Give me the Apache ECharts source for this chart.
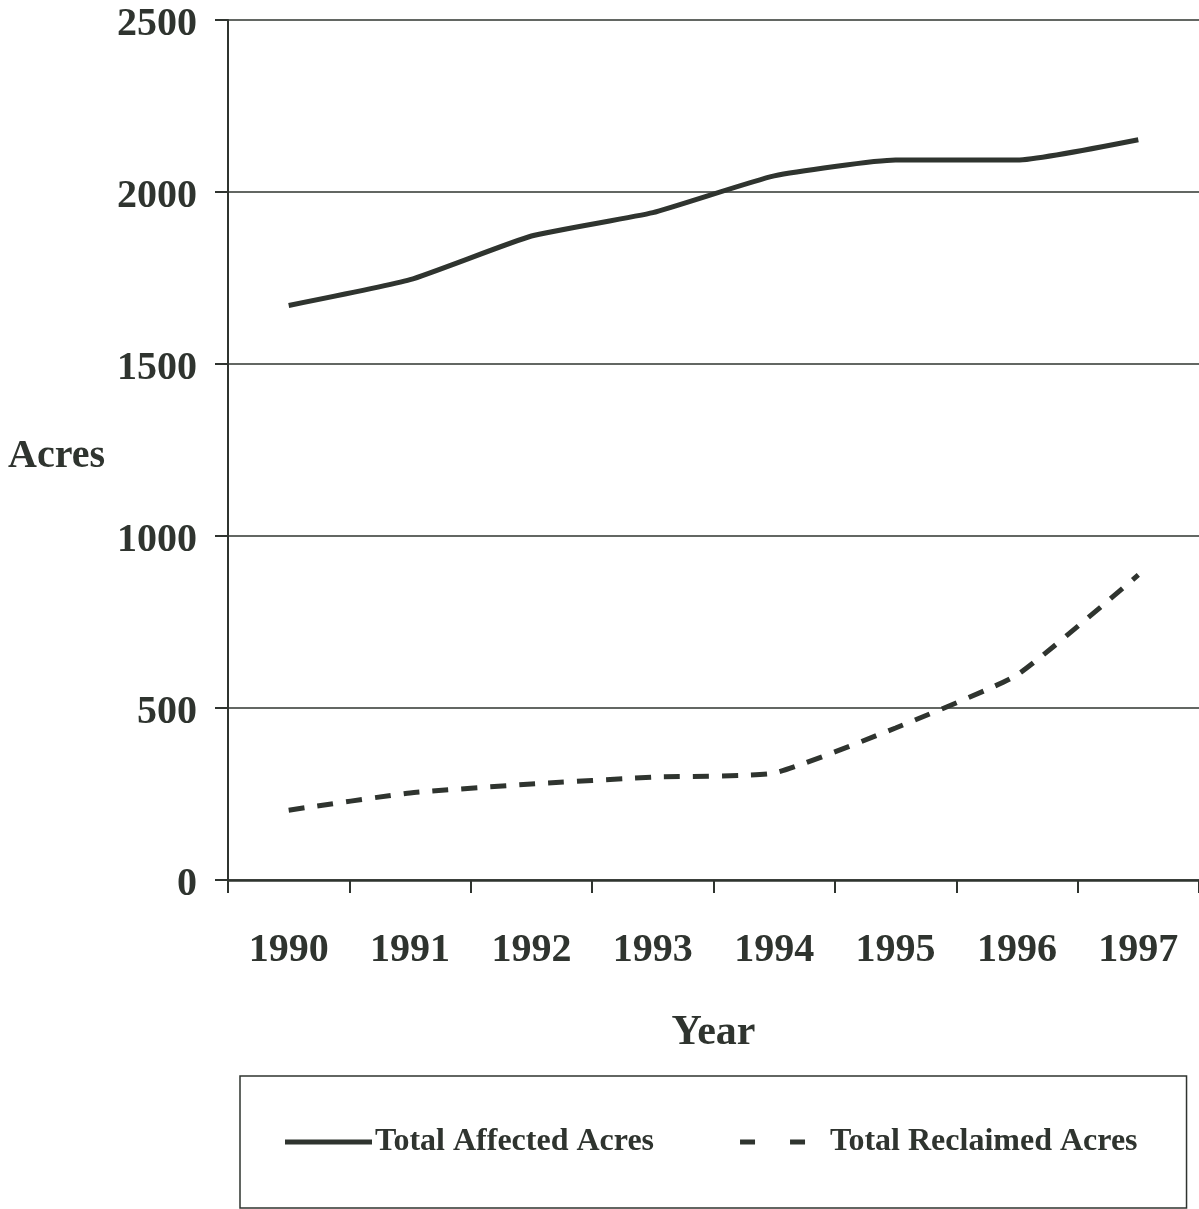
<!DOCTYPE html>
<html>
<head>
<meta charset="utf-8">
<script src="https://cdn.jsdelivr.net/npm/echarts@6/dist/echarts.min.js"></script>
<style>
  html, body { margin: 0; padding: 0; background: #fff; }
  #chart { width: 1199px; height: 1209px; }
</style>
</head>
<body>
<div id="chart"></div>
<script>
const years = ["1990", "1991", "1992", "1993", "1994", "1995", "1996", "1997"];
const affected = [1670, 1745, 1872, 1940, 2047, 2093, 2093, 2152];
const reclaimed = [203, 253, 279, 299, 311, 442, 596, 887];
const yTicks = [0, 500, 1000, 1500, 2000, 2500];

const ink = "#2f342f";
const font = "'Liberation Serif', 'Times New Roman', serif";

let myChart = echarts.init(document.getElementById("chart"));

let option = {
  backgroundColor: "#fff",
  animation: false,
  grid: {
    left: 228,
    right: 0,
    top: 20,
    bottom: 329,
  },
  legend: {
    left: 240,
    top: 1076,
    padding: [50, 49, 50, 45],
    borderColor: ink,
    borderWidth: 1.5,
    itemWidth: 87,
    itemHeight: 5,
    itemGap: 86,
    textStyle: {
      color: ink,
      fontFamily: font,
      fontWeight: "bold",
      fontSize: 32,
      padding: [0, 0, 0, -2],
    },
    data: [
      {
        name: "Total Affected Acres",
        icon: "rect",
      },
      {
        name: "Total Reclaimed Acres",
        // two dashes plus a tiny anchor so the icon keeps the full item width
        icon: "path://M0,0H15V5H0Z M50,0H65V5H50Z M86.9,2.4H87V2.5H86.9Z",
      },
    ],
  },
  xAxis: {
    type: "category",
    data: years,
    boundaryGap: true,
    name: "Year",
    nameLocation: "middle",
    nameGap: 132,
    nameTextStyle: {
      color: ink,
      fontFamily: font,
      fontWeight: "bold",
      fontSize: 42,
    },
    axisLine: { lineStyle: { color: ink, width: 2.5 } },
    axisTick: { show: true, length: 13, lineStyle: { color: ink, width: 2 } },
    axisLabel: {
      color: ink,
      fontFamily: font,
      fontWeight: "bold",
      fontSize: 40,
      margin: 51,
    },
    splitLine: { show: false },
  },
  yAxis: {
    type: "value",
    min: yTicks[0],
    max: yTicks[yTicks.length - 1],
    interval: 500,
    name: "Acres",
    nameLocation: "middle",
    nameRotate: 0,
    nameGap: 123,
    nameTextStyle: {
      color: ink,
      fontFamily: font,
      fontWeight: "bold",
      fontSize: 40,
      verticalAlign: "top",
      lineHeight: 14,
    },
    axisLine: { show: true, lineStyle: { color: ink, width: 2 } },
    axisTick: { show: true, length: 13, lineStyle: { color: ink, width: 2 } },
    axisLabel: {
      color: ink,
      fontFamily: font,
      fontWeight: "bold",
      fontSize: 40,
      margin: 31,
      verticalAlign: "top",
      lineHeight: 10,
      formatter: function (value) {
        return String(value);
      },
    },
    splitLine: { show: true, lineStyle: { color: ink, width: 1.5 } },
  },
  series: [
    {
      name: "Total Affected Acres",
      type: "line",
      data: affected,
      symbol: "none",
      smooth: 0.15,
      lineStyle: { color: ink, width: 5 },
      itemStyle: { color: ink },
    },
    {
      name: "Total Reclaimed Acres",
      type: "line",
      data: reclaimed,
      symbol: "none",
      smooth: 0.15,
      lineStyle: { color: ink, width: 5, type: [16, 13] },
      itemStyle: { color: ink },
    },
  ],
};

myChart.setOption(option);
</script>
</body>
</html>
